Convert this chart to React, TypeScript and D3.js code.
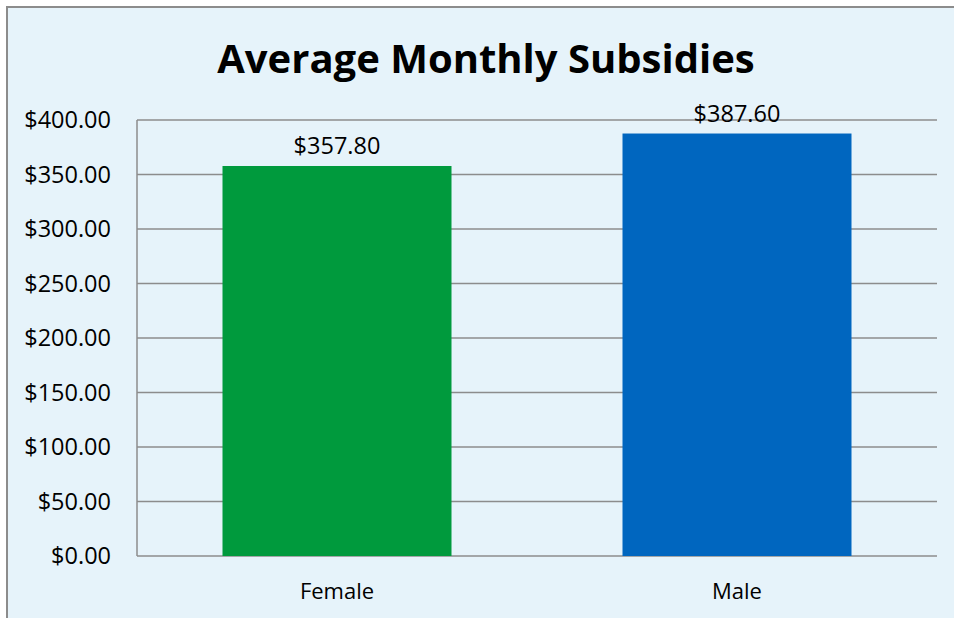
import React from "react";
import * as d3 from "d3";

const categories = ["Female", "Male"];
const values = [357.8, 387.6];
const barColors = ["#009A3D", "#0066BF"];
const yTicks = [0, 50, 100, 150, 200, 250, 300, 350, 400];
const title = "Average Monthly Subsidies";

const W = 954;
const H = 618;
const FONT = "'Open Sans', sans-serif";

export default function App() {
  const left = 137;
  const right = 937;
  const top = 120;
  const bottom = 556;

  const x = d3.scaleBand<string>().domain(categories).range([left, right]).paddingInner(0.4275).paddingOuter(0.21375);
  const y = d3.scaleLinear().domain([0, 400]).range([bottom, top]);
  const fmt = (v: number) => "$" + d3.format(",.2f")(v);

  return (
    <div style={{ position: "fixed", left: 0, top: 0 }}>
      <svg width={W} height={H} style={{ display: "block" }}>
        <rect x={0} y={0} width={W} height={H} fill="#ffffff" />
        <rect x={7} y={7} width={W + 20} height={H + 20} fill="#E6F3FA" stroke="#8C8C8C" strokeWidth={2} />
        <text x={486} y={73} textAnchor="middle" fontFamily={FONT} fontWeight={700} fontSize={40} fill="#000">
          {title}
        </text>
        {yTicks.map((t) => (
          <g key={t}>
            <line x1={left} x2={right} y1={y(t)} y2={y(t)} stroke="#8C8C8C" strokeWidth={1.5} />
            <text x={111} y={y(t) + 8} textAnchor="end" fontFamily={FONT} fontSize={23.5} fill="#000">
              {fmt(t)}
            </text>
          </g>
        ))}
        <line x1={left} x2={left} y1={top} y2={bottom} stroke="#8C8C8C" strokeWidth={1.5} />
        {categories.map((c, i) => (
          <g key={c}>
            <rect x={x(c)} y={y(values[i])} width={x.bandwidth()} height={bottom - y(values[i])} fill={barColors[i]} />
            <text x={(x(c) as number) + x.bandwidth() / 2} y={y(values[i]) - 12} textAnchor="middle" fontFamily={FONT} fontSize={23.5} fill="#000">
              {fmt(values[i])}
            </text>
            <text x={(x(c) as number) + x.bandwidth() / 2} y={599} textAnchor="middle" fontFamily={FONT} fontSize={22} fill="#000">
              {c}
            </text>
          </g>
        ))}
      </svg>
    </div>
  );
}
